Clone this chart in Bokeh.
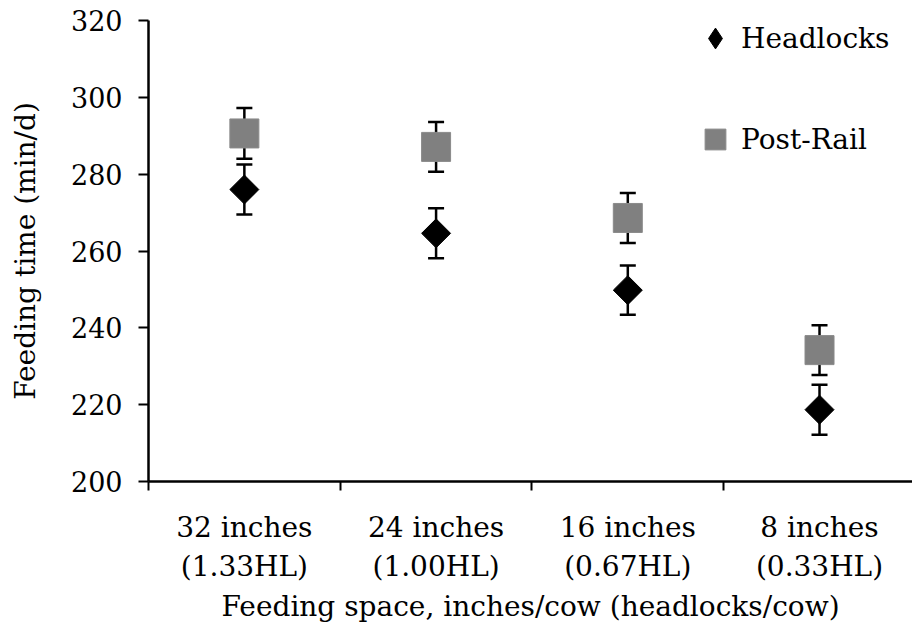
import math
from bokeh.plotting import figure
from bokeh.models import (ColumnDataSource, Range1d, FixedTicker, Whisker, TeeHead,
                          Legend, LegendItem)
from bokeh.embed import file_html
from bokeh.resources import INLINE

# ---- data ----
categories = ["32 inches\n(1.33HL)", "24 inches\n(1.00HL)",
              "16 inches\n(0.67HL)", "8 inches\n(0.33HL)"]
headlocks = [276.0, 264.6, 249.8, 218.7]
headlocks_err = [6.5, 6.5, 6.4, 6.5]
post_rail = [290.6, 287.1, 268.6, 234.2]
post_rail_err = [6.6, 6.5, 6.5, 6.5]
y_ticks = [200, 220, 240, 260, 280, 300, 320]

FONT = "DejaVu Serif"
pos = [i + 0.5 for i in range(len(categories))]

p = figure(width=912, height=626, output_backend="svg", toolbar_location=None,
           x_range=Range1d(0, 3.985), y_range=Range1d(200, 320),
           min_border_left=148, min_border_right=0, min_border_top=20,
           min_border_bottom=142)
p.outline_line_color = None
p.grid.visible = False
p.background_fill_color = "white"
p.border_fill_color = "white"

src_h = ColumnDataSource(dict(
    x=pos, y=headlocks,
    lo=[v - e for v, e in zip(headlocks, headlocks_err)],
    hi=[v + e for v, e in zip(headlocks, headlocks_err)]))
src_p = ColumnDataSource(dict(
    x=pos, y=post_rail,
    lo=[v - e for v, e in zip(post_rail, post_rail_err)],
    hi=[v + e for v, e in zip(post_rail, post_rail_err)]))

for s in (src_p, src_h):
    w = Whisker(base="x", upper="hi", lower="lo", source=s, dimension="height",
                line_color="black", line_width=2.5,
                upper_head=TeeHead(size=16, line_width=2.5, line_color="black"),
                lower_head=TeeHead(size=16, line_width=2.5, line_color="black"))
    p.add_layout(w)

r_p = p.scatter("x", "y", source=src_p, marker="square", size=29,
                fill_color="#808080", line_color="#8a8a8a", line_width=1)
r_h = p.scatter("x", "y", source=src_h, marker="square", size=20.5,
                angle=math.pi / 4, fill_color="black", line_color="black")
# legend proxy (legend markers are not rotated by Bokeh)
r_hl = p.scatter(x=[float("nan")], y=[float("nan")], marker="diamond", size=20,
                 fill_color="black", line_color="black")

legend = Legend(items=[LegendItem(label="Headlocks", renderers=[r_hl]),
                       LegendItem(label="Post-Rail", renderers=[r_p])],
                location=(541, 316), orientation="vertical", spacing=49,
                glyph_height=52, glyph_width=52, label_standoff=-9,
                padding=0, margin=0, border_line_color=None,
                background_fill_alpha=0,
                label_text_font=FONT, label_text_font_size="28px",
                label_text_color="black")
p.add_layout(legend)

# x axis
xa = p.xaxis[0]
xa.ticker = FixedTicker(ticks=pos, minor_ticks=list(range(len(categories) + 1)))
xa.major_label_overrides = {pv: c for pv, c in zip(pos, categories)}
xa.major_tick_line_color = None
xa.major_tick_out = 9
xa.major_tick_in = 0
xa.minor_tick_out = 9
xa.minor_tick_in = 0
xa.minor_tick_line_color = "black"
xa.minor_tick_line_width = 2
xa.axis_line_color = "black"
xa.axis_line_width = 2.5
xa.major_label_text_font = FONT
xa.major_label_text_font_size = "28px"
xa.major_label_text_color = "black"
xa.major_label_text_line_height = 1.2
xa.major_label_standoff = 20
xa.axis_label = "Feeding space, inches/cow (headlocks/cow)"
xa.axis_label_text_font = FONT
xa.axis_label_text_font_size = "28px"
xa.axis_label_text_font_style = "normal"
xa.axis_label_text_color = "black"
xa.axis_label_standoff = 4

# y axis
ya = p.yaxis[0]
ya.ticker = FixedTicker(ticks=y_ticks, minor_ticks=[])
ya.major_tick_out = 10
ya.major_tick_in = 0
ya.major_tick_line_width = 2
ya.major_tick_line_color = "black"
ya.axis_line_color = "black"
ya.axis_line_width = 2.5
ya.major_label_text_font = FONT
ya.major_label_text_font_size = "27px"
ya.major_label_text_color = "black"
ya.major_label_standoff = 16
ya.axis_label = "Feeding time (min/d)"
ya.axis_label_text_font = FONT
ya.axis_label_text_font_size = "28px"
ya.axis_label_text_font_style = "normal"
ya.axis_label_text_color = "black"
ya.axis_label_standoff = 26

open("out.html", "w").write(file_html(p, INLINE))
